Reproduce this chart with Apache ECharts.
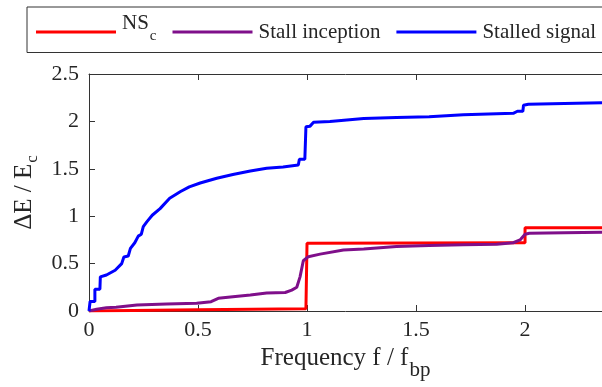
<!DOCTYPE html>
<html>
<head>
<meta charset="utf-8">
<script src="https://cdn.jsdelivr.net/npm/echarts@6/dist/echarts.min.js"></script>
<style>
  html, body { margin: 0; padding: 0; background: #fff; }
  #chart { width: 602px; height: 387px; }
</style>
</head>
<body>
<div id="chart"></div>
<script>
// Normalised frequency f / f_bp and cumulative energy ratio ΔE / E_c
var nscX = [0, 0.5, 0.995, 1.0, 1.0, 1.5, 1.99, 2.0, 2.0, 2.353];
var nscY = [0, 0.012, 0.025, 0.025, 0.714, 0.716, 0.72, 0.72, 0.879, 0.879];

var inceptionX = [0, 0.035, 0.08, 0.124, 0.22, 0.356, 0.494, 0.56, 0.593, 0.66, 0.74, 0.815, 0.9, 0.93,
  0.953, 0.968, 0.983, 1.006, 1.06, 1.167, 1.26, 1.41, 1.56, 1.717, 1.87, 1.946, 1.977, 2.0, 2.02, 2.18, 2.353];
var inceptionY = [0, 0.018, 0.035, 0.04, 0.063, 0.074, 0.081, 0.098, 0.134, 0.15, 0.169, 0.19, 0.195, 0.22,
  0.25, 0.36, 0.53, 0.573, 0.6, 0.643, 0.654, 0.68, 0.69, 0.70, 0.705, 0.72, 0.75, 0.81, 0.82, 0.825, 0.83];

var stalledX = [0, 0.005, 0.027, 0.027, 0.05, 0.052, 0.08, 0.12, 0.15, 0.16, 0.18, 0.19, 0.21, 0.226, 0.24,
  0.249, 0.265, 0.29, 0.326, 0.37, 0.42, 0.46, 0.51, 0.586, 0.66, 0.74, 0.815, 0.89, 0.96, 0.965, 0.99, 0.995,
  1.014, 1.03, 1.105, 1.26, 1.41, 1.56, 1.717, 1.87, 1.946, 1.965, 1.99, 1.993, 2.015, 2.18, 2.353];
var stalledY = [0, 0.1, 0.1, 0.23, 0.23, 0.36, 0.38, 0.43, 0.5, 0.57, 0.58, 0.66, 0.72, 0.79, 0.81,
  0.89, 0.94, 1.01, 1.08, 1.19, 1.26, 1.31, 1.35, 1.40, 1.44, 1.477, 1.505, 1.52, 1.54, 1.6, 1.6, 1.944,
  1.95, 1.99, 2.0, 2.03, 2.04, 2.05, 2.07, 2.08, 2.085, 2.107, 2.107, 2.17, 2.18, 2.19, 2.197];

var xTicks = [0, 0.5, 1, 1.5, 2];
var yTicks = [0, 0.5, 1, 1.5, 2, 2.5];

var seriesNames = ['NSc', 'Stall inception', 'Stalled signal'];
var seriesColors = ['#ff0000', '#7f0f8a', '#0000ff'];

function pairs(xs, ys) {
  return xs.map(function (x, i) { return [x, ys[i]]; });
}

var FONT = 'Liberation Serif';
var INK = '#262626';

var chart = echarts.init(document.getElementById('chart'), null, { renderer: 'canvas' });

function tickLabel(v) {
  return xTicks.indexOf(v) >= 0 || yTicks.indexOf(v) >= 0 ? String(v) : '';
}

chart.setOption({
  animation: false,
  backgroundColor: '#fff',
  grid: { left: 89, top: 74, right: 0, bottom: 76, containLabel: false },
  legend: {
    left: 27,
    top: 7,
    width: 2000,
    orient: 'horizontal',
    icon: 'rect',
    itemWidth: 80,
    itemHeight: 3,
    itemGap: 16,
    padding: [6, 200, 5, 9],
    borderColor: '#333',
    borderWidth: 1,
    data: seriesNames,
    formatter: function (name) {
      if (name === 'NSc') return '{m|NS}{s|c}';
      return '{t|' + name + '}';
    },
    textStyle: {
      fontFamily: FONT,
      fontSize: 21,
      color: INK,
      rich: {
        t: { fontFamily: FONT, fontSize: 21, color: INK, lineHeight: 24, padding: [5, 0, 5, 1] },
        m: { fontFamily: FONT, fontSize: 21, color: INK, lineHeight: 24, verticalAlign: 'bottom', padding: [0, 0, 10, 1] },
        s: { fontFamily: FONT, fontSize: 15, color: INK, lineHeight: 18, verticalAlign: 'bottom', padding: [0, 0, 0, 1] }
      }
    }
  },
  xAxis: [{
    type: 'value',
    min: 0,
    max: 2.353,
    interval: 0.5,
    position: 'bottom',
    name: '{a|Frequency f / f}{b|bp}',
    nameLocation: 'middle',
    nameGap: 29,
    nameTextStyle: {
      rich: {
        a: { fontFamily: FONT, fontSize: 25, color: INK, verticalAlign: 'bottom', padding: [0, 0, 10, 0] },
        b: { fontFamily: FONT, fontSize: 21, color: INK, verticalAlign: 'bottom', padding: [0, 0, 0, 1] }
      }
    },
    axisLine: { show: true, onZero: false, lineStyle: { color: '#333', width: 1 } },
    axisTick: { show: true, inside: true, length: 6, lineStyle: { color: '#333' } },
    axisLabel: {
      show: true, margin: 8, fontFamily: FONT, fontSize: 22, color: INK,
      showMaxLabel: false,
      formatter: tickLabel
    },
    splitLine: { show: false }
  }, {
    type: 'value',
    min: 0,
    max: 2.353,
    interval: 0.5,
    position: 'top',
    axisLine: { show: true, onZero: false, lineStyle: { color: '#333', width: 1 } },
    axisTick: { show: true, inside: true, length: 6, lineStyle: { color: '#333' } },
    axisLabel: { show: false },
    splitLine: { show: false }
  }],
  yAxis: [{
    type: 'value',
    min: 0,
    max: 2.5,
    interval: 0.5,
    position: 'left',
    name: '{a|ΔE / E}{b|c}',
    nameLocation: 'middle',
    nameGap: 48,
    nameTextStyle: {
      rich: {
        a: { fontFamily: FONT, fontSize: 25, color: INK, verticalAlign: 'bottom', padding: [0, 0, 4, 0] },
        b: { fontFamily: FONT, fontSize: 17, color: INK, verticalAlign: 'bottom', padding: [0, 0, 0, 1] }
      }
    },
    axisLine: { show: true, onZero: false, lineStyle: { color: '#333', width: 1 } },
    axisTick: { show: true, inside: true, length: 6, lineStyle: { color: '#333' } },
    axisLabel: { show: true, margin: 10, fontFamily: FONT, fontSize: 22, color: INK, formatter: tickLabel },
    splitLine: { show: false }
  }],
  series: [{
    name: seriesNames[0],
    type: 'line',
    data: pairs(nscX, nscY),
    symbol: 'none',
    color: seriesColors[0],
    lineStyle: { width: 3, color: seriesColors[0] },
    z: 3
  }, {
    name: seriesNames[1],
    type: 'line',
    data: pairs(inceptionX, inceptionY),
    symbol: 'none',
    color: seriesColors[1],
    lineStyle: { width: 3, color: seriesColors[1] },
    z: 4
  }, {
    name: seriesNames[2],
    type: 'line',
    data: pairs(stalledX, stalledY),
    symbol: 'none',
    color: seriesColors[2],
    lineStyle: { width: 3, color: seriesColors[2] },
    z: 5
  }]
});
</script>
</body>
</html>
